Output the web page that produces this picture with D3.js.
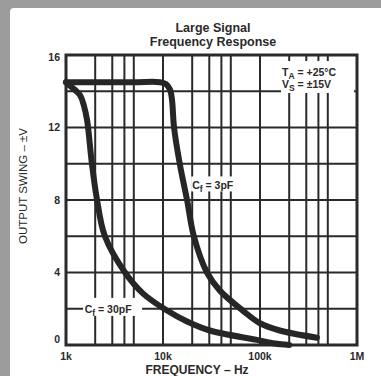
<!DOCTYPE html>
<html>
<head>
<meta charset="utf-8">
<style>
body { margin: 0; background: #fff; }
text { font-family: "Liberation Sans", Arial, sans-serif; fill: #2a2a2a; }
.grid line { stroke: #2a2a2a; stroke-width: 2px; }
.curve { fill: none; stroke: #262626; stroke-width: 6px; stroke-linecap: round; stroke-linejoin: round; }
</style>
</head>
<body>
<svg width="381" height="376"></svg>
<script src="https://cdn.jsdelivr.net/npm/d3@7"></script>
<script>
// values
var xTicks = [1e3, 1e4, 1e5, 1e6];
var xTickLabels = ["1k", "10k", "100k", "1M"];
var yTicks = [0, 4, 8, 12, 16];
var yGrid = [2, 4, 6, 8, 10, 12, 14];
var decadeSteps = [1, 2, 3, 4, 5];

var cap3Freq = [1000, 5000, 9300, 10700, 11800, 12400, 13000, 15000, 17700, 20800, 28400, 38600, 66500, 100000, 160000, 386000];
var cap3Volts = [14.5, 14.5, 14.5, 14.4, 14.1, 13.5, 12.0, 9.9, 8.0, 6.0, 4.0, 3.0, 1.9, 1.2, 0.8, 0.4];

var cap30Freq = [1000, 1100, 1390, 1530, 1650, 1850, 2090, 2520, 4060, 6200, 11000, 17700, 30500, 93000, 142000, 200000];
var cap30Volts = [14.5, 14.3, 13.8, 13.2, 12.4, 10.0, 8.0, 6.0, 4.0, 2.85, 1.9, 1.3, 0.8, 0.28, 0.08, 0];

var svg = d3.select("svg"),
    margin = {top: 55, right: 24, bottom: 31, left: 66},
    width = +svg.attr("width") - margin.left - margin.right,
    height = +svg.attr("height") - margin.top - margin.bottom;

// scanned page edge
svg.append("rect").attr("width", 381).attr("height", 376).attr("fill", "#9c9c9c");
svg.append("rect").attr("x", 10).attr("y", 8).attr("width", 390).attr("height", 390)
    .attr("rx", 4).attr("fill", "#fff");

var x = d3.scaleLog().domain([1e3, 1e6]).range([0, width]);
var y = d3.scaleLinear().domain([0, 16]).range([height, 0]);

var g = svg.append("g").attr("transform", "translate(" + margin.left + "," + margin.top + ")");

var vLines = [];
[1e3, 1e4, 1e5].forEach(function(dec) {
  decadeSteps.forEach(function(s) { vLines.push(dec * s); });
});

var grid = g.append("g").attr("class", "grid");
grid.selectAll(".v").data(vLines).enter().append("line")
    .attr("x1", function(d) { return x(d); })
    .attr("x2", function(d) { return x(d); })
    .attr("y1", 0).attr("y2", height);
grid.selectAll(".h").data(yGrid).enter().append("line")
    .attr("x1", 0).attr("x2", width)
    .attr("y1", function(d) { return y(d); })
    .attr("y2", function(d) { return y(d); });

// white patches behind in-plot labels
g.append("rect").attr("x", 215).attr("y", 6).attr("width", 73).attr("height", 32).attr("fill", "#fff");
g.append("rect").attr("x", x(19500)).attr("y", y(9.3)).attr("width", 43).attr("height", 15).attr("fill", "#fff");
g.append("rect").attr("x", x(1500)).attr("y", y(2.6)).attr("width", 59).attr("height", 18).attr("fill", "#fff");

g.append("rect")
    .attr("width", width).attr("height", height)
    .attr("fill", "none").attr("stroke", "#2a2a2a").attr("stroke-width", 3);

var line = d3.line()
    .x(function(d) { return x(d[0]); })
    .y(function(d) { return y(d[1]); })
    .curve(d3.curveCatmullRom.alpha(0.5));

g.append("path").attr("class", "curve").attr("d", line(d3.zip(cap3Freq, cap3Volts)));
g.append("path").attr("class", "curve").attr("d", line(d3.zip(cap30Freq, cap30Volts)));

// tick labels
g.selectAll(".xl").data(xTicks).enter().append("text")
    .attr("x", function(d) { return x(d); })
    .attr("y", height + 15)
    .attr("text-anchor", "middle")
    .style("font-size", "10.5px").style("font-weight", "bold")
    .text(function(d, i) { return xTickLabels[i]; });

g.selectAll(".yl").data(yTicks).enter().append("text")
    .attr("x", -6)
    .attr("y", function(d) { return y(d) + (d === 0 ? -6 : d === 16 ? 2 : 0); })
    .attr("dy", "0.36em")
    .attr("text-anchor", "end")
    .style("font-size", "10.5px").style("font-weight", "bold")
    .text(function(d) { return d; });

// titles
svg.append("text").attr("x", 213).attr("y", 32).attr("text-anchor", "middle")
    .style("font-size", "12.5px").style("font-weight", "bold").text("Large Signal");
svg.append("text").attr("x", 213).attr("y", 46).attr("text-anchor", "middle")
    .style("font-size", "12.5px").style("font-weight", "bold").text("Frequency Response");

svg.append("text").attr("x", 197).attr("y", 374).attr("text-anchor", "middle")
    .style("font-size", "12px").style("font-weight", "bold").text("FREQUENCY \u2013 Hz");

svg.append("text").attr("transform", "translate(27,186) rotate(-90)").attr("text-anchor", "middle")
    .style("font-size", "11.5px").text("OUTPUT SWING \u2013 \u00b1V");

// conditions
function subText(px, py, main, sub, rest) {
  var t = svg.append("text").attr("x", px).attr("y", py)
      .style("font-size", "10.5px").style("font-weight", "bold");
  t.append("tspan").text(main);
  t.append("tspan").attr("dy", 3).style("font-size", "8.5px").text(sub);
  t.append("tspan").attr("dy", -3).text(rest);
}
subText(282, 76, "T", "A", " = +25\u00b0C");
subText(282, 88, "V", "S", " = \u00b115V");
subText(margin.left + x(20000), margin.top + y(8.6), "C", "f", " = 3pF");
subText(margin.left + x(1560), margin.top + y(2) + 4, "C", "f", " = 30pF");
</script>
</body>
</html>
